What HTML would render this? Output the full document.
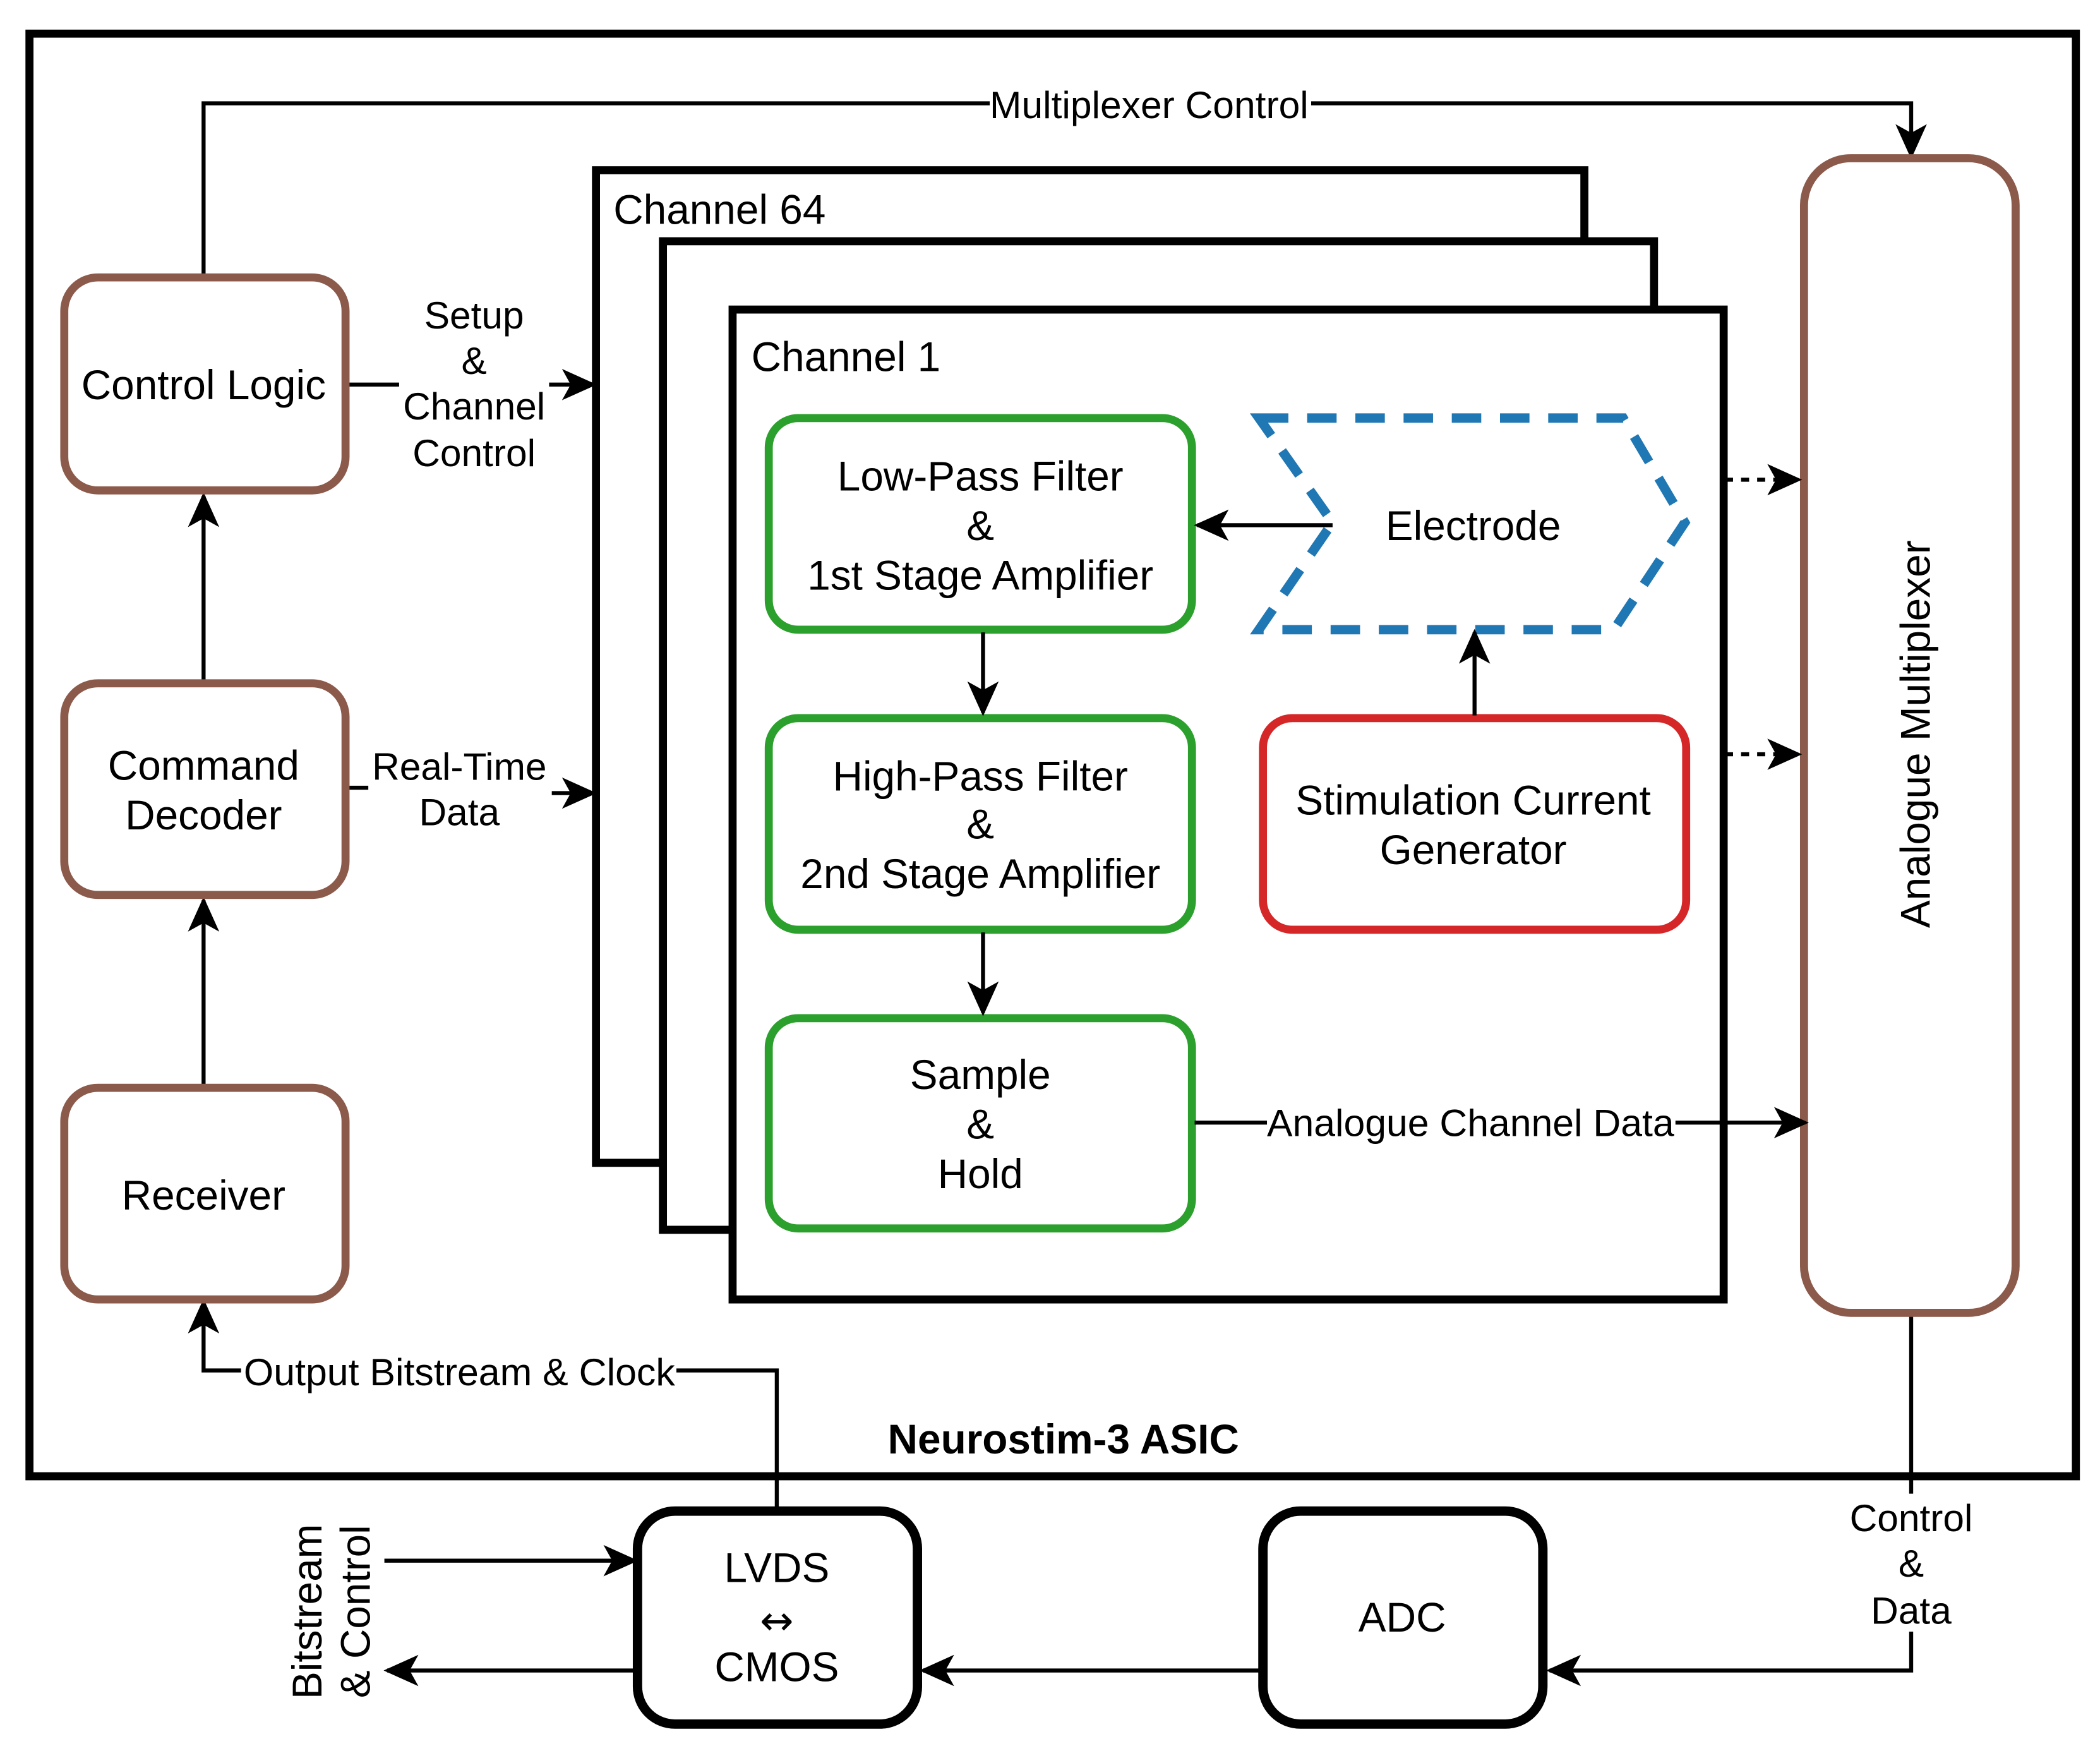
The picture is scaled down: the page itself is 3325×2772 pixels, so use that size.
<!DOCTYPE html>
<html><head><meta charset="utf-8"><style>html,body{margin:0;padding:0;background:#fff}svg{display:block}</style></head><body>
<svg width="3325" height="2772" viewBox="0 0 1568 1307" xmlns="http://www.w3.org/2000/svg" font-family="Liberation Sans, sans-serif" font-size="31">
<defs>
<marker id="a" viewBox="0 0 20 20" refX="18" refY="10" markerWidth="26" markerHeight="26" markerUnits="userSpaceOnUse" orient="auto">
<path d="M0,1 L20,10 L0,19 L5,10 Z" fill="#000"/></marker>
</defs>
<rect x="22" y="25" width="1528" height="1077" fill="none" stroke="#000" stroke-width="6"/>
<g fill="none" stroke="#000" stroke-width="3">
<path d="M152,205 V77 H1427 V116" marker-end="url(#a)"/>
<path d="M152,810 V672" marker-end="url(#a)"/>
<path d="M152,508 V370" marker-end="url(#a)"/>
<path d="M258,287 H298"/><path d="M410,287 H443" marker-end="url(#a)"/>
<path d="M260,588 H275"/><path d="M412,592 H443" marker-end="url(#a)"/>
<path d="M580,1127 V1023 H505"/><path d="M180,1023 H152 V972" marker-end="url(#a)"/>
<path d="M1427,980 V1115"/><path d="M1427,1218 V1247 H1157" marker-end="url(#a)"/>
<path d="M941,1247 H689" marker-end="url(#a)"/>
<path d="M287,1165 H474" marker-end="url(#a)"/>
<path d="M474,1247 H289" marker-end="url(#a)"/>
</g>
<rect x="445" y="127" width="738" height="741" fill="#fff" stroke="#000" stroke-width="6"/>
<rect x="495" y="180" width="740" height="738" fill="#fff" stroke="#000" stroke-width="6"/>
<rect x="547" y="231" width="740" height="739" fill="#fff" stroke="#000" stroke-width="6"/>
<g fill="#fff" stroke="#8c5a4b" stroke-width="6">
<rect x="48" y="207" width="210" height="159" rx="25"/>
<rect x="48" y="510" width="210" height="158" rx="25"/>
<rect x="48" y="812" width="210" height="158" rx="25"/>
<rect x="1347" y="118" width="158" height="862" rx="35"/>
</g>
<g fill="#fff" stroke="#2ca02c" stroke-width="6">
<rect x="574" y="312" width="316" height="158" rx="22"/>
<rect x="574" y="536" width="316" height="158" rx="22"/>
<rect x="574" y="760" width="316" height="157" rx="22"/>
</g>
<rect x="943" y="536" width="316" height="158" rx="22" fill="#fff" stroke="#d62728" stroke-width="6"/>
<path d="M940,312 H1212 L1258,390 L1205,470 H940 L995,390 Z" fill="#fff" stroke="#1f77b4" stroke-width="7" stroke-dasharray="22,14"/>
<g fill="#fff" stroke="#000" stroke-width="7">
<rect x="476" y="1128" width="209" height="159" rx="28"/>
<rect x="943" y="1128" width="209" height="159" rx="28"/>
</g>
<g fill="none" stroke="#000" stroke-width="3">
<path d="M734,472 V532" marker-end="url(#a)"/>
<path d="M734,696 V756" marker-end="url(#a)"/>
<path d="M995,392 H894" marker-end="url(#a)"/>
<path d="M1101,534 V472" marker-end="url(#a)"/>
<path d="M892,838 H1348" marker-end="url(#a)"/>
<path d="M1288,358 H1343" stroke-dasharray="6,6" marker-end="url(#a)"/>
<path d="M1288,563 H1343" stroke-dasharray="6,6" marker-end="url(#a)"/>
</g>
<g fill="#000" text-anchor="middle">
<rect x="739" y="62" width="240" height="30" fill="#fff"/>
<text x="858" y="88" font-size="28.5" textLength="238" lengthAdjust="spacingAndGlyphs">Multiplexer Control</text>
<rect x="946" y="823" width="305" height="30" fill="#fff"/>
<text x="1098" y="848" font-size="28.5" textLength="304" lengthAdjust="spacingAndGlyphs">Analogue Channel Data</text>
<rect x="181" y="1008" width="324" height="30" fill="#fff"/>
<text x="343" y="1034" font-size="28.5" textLength="322" lengthAdjust="spacingAndGlyphs">Output Bitstream &amp; Clock</text>
<text x="152" y="298">Control Logic</text>
<text x="152" y="582">Command</text><text x="152" y="619">Decoder</text>
<text x="152" y="903">Receiver</text>
<g font-size="28.5"><text x="354" y="245">Setup</text><text x="354" y="279">&amp;</text><text x="354" y="313">Channel</text><text x="354" y="348">Control</text>
<text x="343" y="582">Real-Time</text><text x="343" y="616">Data</text></g>
<text x="732" y="366">Low-Pass Filter</text><text x="732" y="403">&amp;</text><text x="732" y="440">1st Stage Amplifier</text>
<text x="732" y="590">High-Pass Filter</text><text x="732" y="626">&amp;</text><text x="732" y="663">2nd Stage Amplifier</text>
<text x="732" y="813">Sample</text><text x="732" y="850">&amp;</text><text x="732" y="887">Hold</text>
<text x="1100" y="403">Electrode</text>
<text x="1100" y="608">Stimulation Current</text><text x="1100" y="645">Generator</text>
<text x="1441" y="548" transform="rotate(-90 1441 548)">Analogue Multiplexer</text>
<text x="794" y="1085" font-weight="bold">Neurostim-3 ASIC</text>
<g font-size="28.5"><rect x="1378" y="1116" width="100" height="102" fill="#fff"/>
<text x="1427" y="1143">Control</text><text x="1427" y="1177">&amp;</text><text x="1427" y="1212">Data</text></g>
<text x="580" y="1181">LVDS</text><text x="580" y="1220" font-size="30" font-family="DejaVu Sans, sans-serif">↔</text><text x="580" y="1255">CMOS</text>
<text x="1047" y="1218">ADC</text>
<text x="240" y="1203" transform="rotate(-90 240 1203)">Bitstream</text>
<text x="276" y="1203" transform="rotate(-90 276 1203)">&amp; Control</text>
</g>
<g font-size="31"><text x="458" y="167">Channel 64</text><text x="561" y="277">Channel 1</text></g>
</svg>
</body></html>
